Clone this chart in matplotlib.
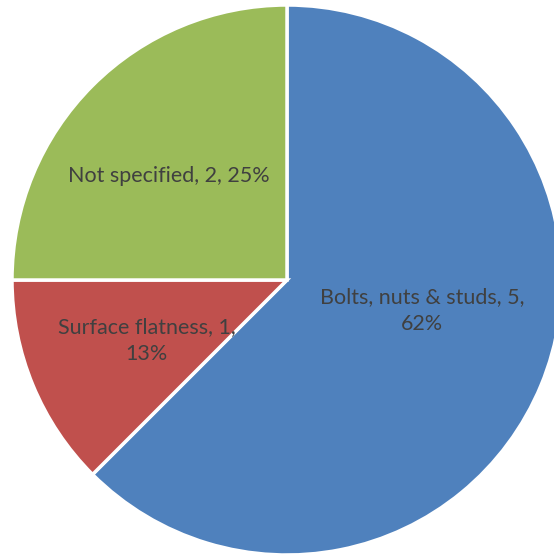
import matplotlib
matplotlib.use('Agg')
import matplotlib.pyplot as plt

# === DATA ===
categories = ['Bolts, nuts & studs', 'Surface flatness', 'Not specified']
counts = [5, 1, 2]
percents = ['62%', '13%', '25%']
colors = ['#4F81BD', '#C0504D', '#9BBB59']

label_text = [
    'Bolts, nuts & studs, 5,\n62%',
    'Surface flatness, 1,\n13%',
    'Not specified, 2, 25%',
]
# label centres in pie units (radius = 1)
label_pos = [(0.49, -0.11), (-0.51, -0.22), (-0.43, 0.38)]

# === FIGURE ===
fig = plt.figure(figsize=(5.54, 5.55), dpi=100)
ax = fig.add_axes([12 / 554, 0 / 555, 550 / 554, 550 / 555])

ax.pie(counts, colors=colors, startangle=90, counterclock=False,
       radius=1.0, wedgeprops=dict(edgecolor='white', linewidth=2.5))

for txt, (x, y) in zip(label_text, label_pos):
    ax.text(x, y, txt, ha='center', va='center', fontsize=15.5,
            family='Lato', color='#404040', linespacing=1.45)

ax.set_xlim(-1, 1)
ax.set_ylim(-1, 1)
ax.set_aspect('equal')
ax.axis('off')

fig.savefig('out.png', dpi=100)
